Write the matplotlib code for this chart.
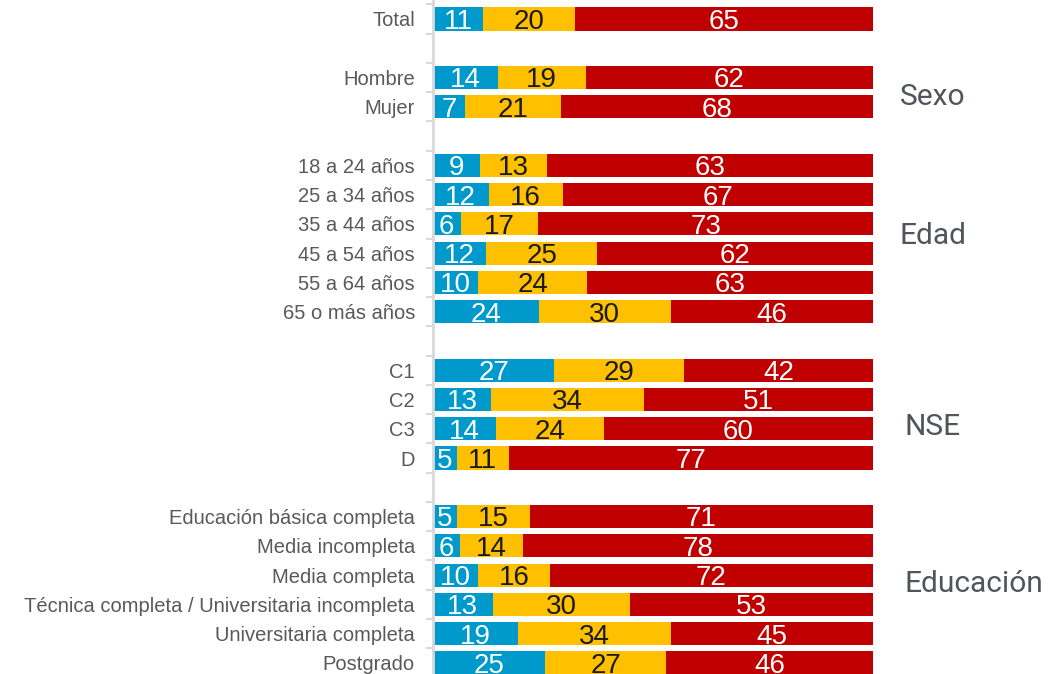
import numpy as np
import matplotlib.pyplot as plt
from matplotlib import font_manager

# categories (None = empty row between groups)
categorias = ["Total", None, "Hombre", "Mujer", None,
              "18 a 24 años", "25 a 34 años", "35 a 44 años", "45 a 54 años",
              "55 a 64 años", "65 o más años", None,
              "C1", "C2", "C3", "D", None,
              "Educación básica completa", "Media incompleta", "Media completa",
              "Técnica completa / Universitaria incompleta",
              "Universitaria completa", "Postgrado"]

# series values per non-empty row
azul = [11, 14, 7, 9, 12, 6, 12, 10, 24, 27, 13, 14, 5, 5, 6, 10, 13, 19, 25]
amarillo = [20, 19, 21, 13, 16, 17, 25, 24, 30, 29, 34, 24, 11, 15, 14, 16, 30, 34, 27]
rojo = [65, 62, 68, 63, 67, 73, 62, 63, 46, 42, 51, 60, 77, 71, 78, 72, 53, 45, 46]

grupos = ["Sexo", "Edad", "NSE", "Educación"]
grupos_y = [2.66, 7.41, 13.94, 19.3]
grupos_x = [106.1, 106.1, 107.2, 107.2]

colores = ["#0099CC", "#FFC000", "#C00000"]
colores_txt = ["white", "#1a1a1a", "white"]

nombres = [f.name for f in font_manager.fontManager.ttflist]
fuente_num = "Liberation Sans Narrow" if "Liberation Sans Narrow" in nombres else "Liberation Sans"

fig = plt.figure(figsize=(10.52, 6.74), dpi=100)
ax = fig.add_axes([433 / 1052, 0, 440 / 1052, 1])

filas = [i for i, c in enumerate(categorias) if c is not None]
datos = np.array([azul, amarillo, rojo], dtype=float)
totales = datos.sum(axis=0)
pct = datos / totales * 100

izq = np.zeros(len(filas))
for k in range(3):
    ax.barh(filas, pct[k], left=izq, height=0.79, color=colores[k], linewidth=0)
    for j, y in enumerate(filas):
        ax.text(izq[j] + pct[k][j] / 2, y + 0.1, f"{int(datos[k][j])}",
                ha="center", va="center", fontsize=20, color=colores_txt[k],
                family=fuente_num)
    izq += pct[k]

ax.set_yticks(filas)
ax.set_yticklabels([categorias[i] for i in filas], fontsize=14.5, color="#595959",
                   family="Liberation Sans")
ax.set_yticks(np.arange(-1.5, 23, 1), minor=True)
ax.tick_params(axis="y", which="major", length=0, pad=13)
ax.tick_params(axis="y", which="minor", length=5, width=1.5, color="#d9d9d9")
ax.set_xticks([])

ax.set_xlim(0, 100)
ax.set_ylim(22.38, -0.649)

for s in ["top", "right", "bottom"]:
    ax.spines[s].set_visible(False)
ax.spines["left"].set_color("#d9d9d9")
ax.spines["left"].set_linewidth(2)

# group titles on the right
for g, gy, gx in zip(grupos, grupos_y, grupos_x):
    ax.text(gx, gy, g, ha="left", va="center", fontsize=21.5, color="#50555b",
            family="Roboto", clip_on=False)

fig.savefig("out.png", dpi=100)
